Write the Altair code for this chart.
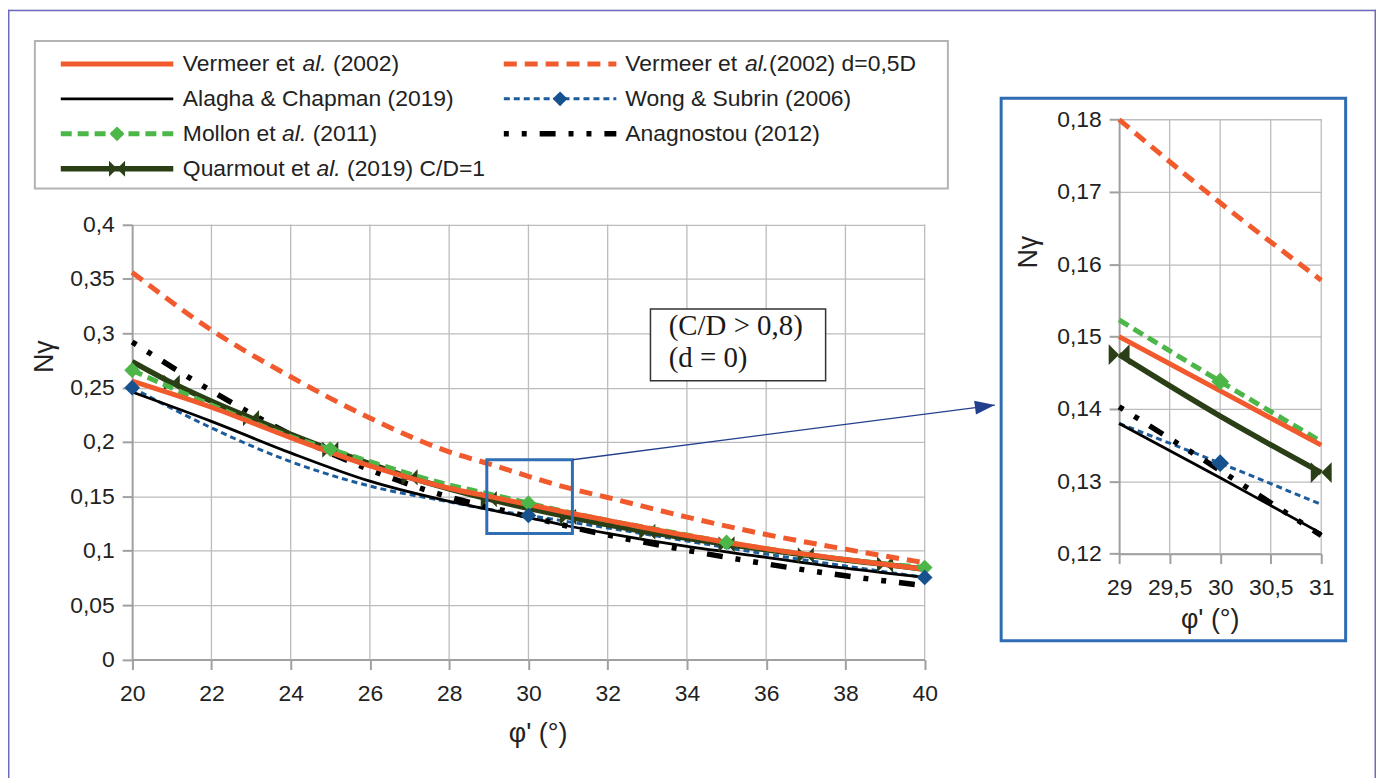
import altair as alt
import pandas as pd

# ------------------------------------------------------------------ data
PHI = [20, 22, 24, 26, 28, 29, 30, 31, 32, 34, 36, 38, 40]
VERMEER = [0.256, 0.232, 0.204, 0.178, 0.1575, 0.150, 0.1425, 0.135, 0.128, 0.114, 0.102, 0.092, 0.083]
VERMEER_D05 = [0.356, 0.303, 0.260, 0.222, 0.191, 0.180, 0.1685, 0.1578, 0.149, 0.131, 0.115, 0.1015, 0.089]
ALAGHA = [0.246, 0.219, 0.190, 0.164, 0.1455, 0.138, 0.1305, 0.1228, 0.116, 0.104, 0.094, 0.084, 0.0755]
WONG = [0.250, 0.213, 0.182, 0.1595, 0.145, 0.138, 0.1325, 0.1268, 0.121, 0.109, 0.097, 0.086, 0.0755]
ANAGNOSTOU = [0.292, 0.247, 0.207, 0.1745, 0.1495, 0.1403, 0.1315, 0.1225, 0.1145, 0.1005, 0.088, 0.077, 0.068]
PHI_MOLLON = [20, 22, 24, 25, 26, 28, 29, 30, 31, 32, 34, 35, 36, 38, 40]
MOLLON = [0.266, 0.234, 0.205, 0.1935, 0.182, 0.1605, 0.1523, 0.1438, 0.1355, 0.128, 0.1145, 0.1077, 0.102, 0.092, 0.0846]
PHI_QUARMOUT = [20, 21, 22, 23, 24, 25, 26, 27, 28, 29, 30, 31, 32, 33, 34, 35, 36, 37, 38, 39, 40]
QUARMOUT = [0.274, 0.2545, 0.2375, 0.222, 0.207, 0.193, 0.180, 0.1675, 0.157, 0.1475, 0.139, 0.1312,
            0.124, 0.1175, 0.1115, 0.106, 0.101, 0.096, 0.0915, 0.0875, 0.083]

WONG_MARKERS = [20, 30, 40]
MOLLON_MARKERS = [20, 25, 30, 35, 40]
QUARMOUT_MARKERS = [21, 23, 25, 27, 29, 31, 33, 35, 37, 39]

MAIN_X_TICKS = [20, 22, 24, 26, 28, 30, 32, 34, 36, 38, 40]
MAIN_Y_TICKS = [0, 0.05, 0.1, 0.15, 0.2, 0.25, 0.3, 0.35, 0.4]
INSET_X_TICKS = [29, 29.5, 30, 30.5, 31]
INSET_Y_TICKS = [0.12, 0.13, 0.14, 0.15, 0.16, 0.17, 0.18]

LEGEND_LABELS = {
    "vermeer": ("Vermeer et ", "al.", " (2002)"),
    "vermeer_d05": ("Vermeer et ", "al.", "(2002) d=0,5D"),
    "alagha": ("Alagha & Chapman (2019)", "", ""),
    "wong": ("Wong & Subrin (2006)", "", ""),
    "mollon": ("Mollon et ", "al.", " (2011)"),
    "anagnostou": ("Anagnostou (2012)", "", ""),
    "quarmout": ("Quarmout et ", "al.", " (2019) C/D=1"),
}
ANNOTATION_LINES = ["(C/D > 0,8)", "(d = 0)"]
Y_TITLE = "Nγ"
X_TITLE = "φ' (°)"

SERIES = {
    "vermeer": (PHI, VERMEER),
    "vermeer_d05": (PHI, VERMEER_D05),
    "alagha": (PHI, ALAGHA),
    "wong": (PHI, WONG),
    "mollon": (PHI_MOLLON, MOLLON),
    "anagnostou": (PHI, ANAGNOSTOU),
    "quarmout": (PHI_QUARMOUT, QUARMOUT),
}

# ------------------------------------------------------------------ layout & styles
FONT = "Liberation Sans"
W, H = 1374, 790
MAIN_X_RANGE = [124.7, 920.7]
MAIN_Y_RANGE = [652.7, 215.7]
INSET_X_RANGE = [1116.0, 1319.0]
INSET_Y_RANGE = [546.3, 110.3]
GRID = "#bcbcbc"
AXC = "#a0a0a0"
TXT = "#222222"

ORANGE = "#f15a2c"
STYLE = {
    "vermeer": dict(color=ORANGE, strokeWidth=5),
    "vermeer_d05": dict(color=ORANGE, strokeWidth=5, strokeDash=[13, 8]),
    "alagha": dict(color="#000000", strokeWidth=2.8),
    "wong": dict(color="#1d5c9b", strokeWidth=3, strokeDash=[6, 4]),
    "mollon": dict(color="#4cb648", strokeWidth=5, strokeDash=[11, 6]),
    "anagnostou": dict(color="#000000", strokeWidth=5.5, strokeDash=[5, 13, 5, 13, 16, 13]),
    "quarmout": dict(color="#2b3f17", strokeWidth=5.5),
}
LINE_ORDER = ["wong", "alagha", "anagnostou", "quarmout", "mollon", "vermeer_d05", "vermeer"]

BOWTIE = "M-1,-1L0,0L-1,1ZM1,-1L0,0L1,1Z"
ARROW = "M0,0L-1,-0.35L-1,0.35Z"
MARKERS = {  # key: (marker positions, shape, colour)
    "quarmout": (QUARMOUT_MARKERS, BOWTIE, "#2b3f17"),
    "mollon": (MOLLON_MARKERS, "diamond", "#4cb648"),
    "wong": (WONG_MARKERS, "diamond", "#17528f"),
}
TOP_MARKERS = ["mollon", "wong"]
MARK_SIZE_MAIN = {BOWTIE: 260, "diamond": 250}
MARK_SIZE_INSET = {BOWTIE: 440, "diamond": 320}
MARK_SIZE_LEG = {BOWTIE: 260, "diamond": 220}

AXIS_STYLE = dict(labelFont=FONT, labelFontSize=23, labelColor=TXT, titleFont=FONT, titleFontSize=27,
                  titleFontWeight="normal", titleColor=TXT, tickSize=10, tickColor=AXC, tickWidth=2,
                  domainColor=AXC, domainWidth=2, gridColor=GRID, gridWidth=1.3)

ONE = pd.DataFrame({"k": [0]})


class Frame:
    def __init__(self, xdom, xrange, ydom, yrange, xaxis, yaxis):
        self.xs = alt.Scale(domain=xdom, range=xrange, zero=False, nice=False)
        self.ys = alt.Scale(domain=ydom, range=yrange, zero=False, nice=False)
        self.xaxis, self.yaxis = xaxis, yaxis

    def x(self, f):
        return alt.X(f + ":Q", scale=self.xs, axis=self.xaxis)

    def y(self, f):
        return alt.Y(f + ":Q", scale=self.ys, axis=self.yaxis)


main_f = Frame(
    [20, 40], MAIN_X_RANGE, [0, 0.4], MAIN_Y_RANGE,
    alt.Axis(orient="bottom", offset=MAIN_Y_RANGE[0] - H, values=MAIN_X_TICKS, format="d", labelFlush=False,
             labelPadding=13, grid=False, title=X_TITLE, titleX=532, titleY=74, titleBaseline="middle",
             titleAlign="center", **AXIS_STYLE),
    alt.Axis(orient="left", offset=-MAIN_X_RANGE[0], values=MAIN_Y_TICKS,
             labelExpr="replace(format(datum.value, '.2~f'), '.', ',')", labelPadding=8, grid=True,
             title=Y_TITLE, titleX=-87.7, titleY=348, titleAngle=270, titleBaseline="middle",
             titleAlign="center", **AXIS_STYLE),
)
inset_f = Frame(
    [29, 31], INSET_X_RANGE, [0.12, 0.18], INSET_Y_RANGE,
    alt.Axis(orient="bottom", offset=INSET_Y_RANGE[0] - H, values=INSET_X_TICKS,
             labelExpr="replace(format(datum.value, '.1~f'), '.', ',')", labelFlush=False,
             labelPadding=13, grid=False, title=X_TITLE, titleX=1207, titleY=66, titleBaseline="middle",
             titleAlign="center", **AXIS_STYLE),
    alt.Axis(orient="left", offset=-INSET_X_RANGE[0], values=INSET_Y_TICKS,
             labelExpr="replace(format(datum.value, '.2f'), '.', ',')", labelPadding=8, grid=True,
             title=Y_TITLE, titleX=-91, titleY=243, titleAngle=270, titleBaseline="middle",
             titleAlign="center", **AXIS_STYLE),
)


def marker_layer(fr, key, lo, hi, msize):
    mpos, shape, col = MARKERS[key]
    xs, ys = SERIES[key]
    df = pd.DataFrame({"phi": xs, "val": ys})
    df = df[df.phi.isin(mpos) & (df.phi >= lo) & (df.phi <= hi)]
    return alt.Chart(df).mark_point(shape=shape, filled=True, size=msize[shape], color=col,
                                    opacity=1, strokeWidth=0).encode(x=fr.x("phi"), y=fr.y("val"))


def plot_layers(fr, lo, hi, grid_x, y_lo, y_hi, msize):
    layers = []
    gdf = pd.DataFrame({"g": grid_x, "lo": [y_lo] * len(grid_x), "hi": [y_hi] * len(grid_x)})
    layers.append(alt.Chart(gdf).mark_rule(color=GRID, strokeWidth=1.3).encode(
        x=fr.x("g"), y=fr.y("lo"), y2=alt.Y2("hi:Q")))
    for key in LINE_ORDER:
        xs, ys = SERIES[key]
        df = pd.DataFrame({"phi": xs, "val": ys})
        df = df[(df.phi >= lo) & (df.phi <= hi)]
        layers.append(alt.Chart(df).mark_line(interpolate="monotone", **STYLE[key]).encode(
            x=fr.x("phi"), y=fr.y("val")))
        if key == "quarmout":
            layers.append(marker_layer(fr, key, lo, hi, msize))
    for key in TOP_MARKERS:
        layers.append(marker_layer(fr, key, lo, hi, msize))
    return layers


# ---- main chart
main_layers = plot_layers(main_f, 20, 40, MAIN_X_TICKS[1:], 0, 0.4, MARK_SIZE_MAIN)

zoom_box = pd.DataFrame({"x0": [28.95], "x1": [31.11], "y0": [0.116], "y1": [0.1837]})
main_layers.append(alt.Chart(zoom_box).mark_rect(fillOpacity=0, stroke="#2f6db5", strokeWidth=3).encode(
    x=main_f.x("x0"), x2=alt.X2("x1:Q"), y=main_f.y("y0"), y2=alt.Y2("y1:Q")))

arrow = pd.DataFrame({"x0": [31.11], "y0": [0.1837], "x1": [41.77], "y1": [0.234]})
main_layers.append(alt.Chart(arrow).mark_rule(color="#23408e", strokeWidth=1.3).encode(
    x=main_f.x("x0"), y=main_f.y("y0"), x2=alt.X2("x1:Q"), y2=alt.Y2("y1:Q")))
main_layers.append(alt.Chart(arrow).mark_point(shape=ARROW, filled=True, size=1600, angle=352.6,
                                               color="#23408e", opacity=1, strokeWidth=0).encode(
    x=main_f.x("x1"), y=main_f.y("y1")))

ann_box = pd.DataFrame({"x0": [33.08], "x1": [37.50], "y0": [0.2563], "y1": [0.3222]})
main_layers.append(alt.Chart(ann_box).mark_rect(fill="white", stroke="#333333", strokeWidth=1.5).encode(
    x=main_f.x("x0"), x2=alt.X2("x1:Q"), y=main_f.y("y0"), y2=alt.Y2("y1:Q")))
ann_txt = pd.DataFrame({"x": [33.54, 33.54], "y": [0.2981, 0.2691], "t": ANNOTATION_LINES})
main_layers.append(alt.Chart(ann_txt).mark_text(font="Liberation Serif", fontSize=29, align="left",
                                                baseline="alphabetic", color="#1a1a1a").encode(
    x=main_f.x("x"), y=main_f.y("y"), text="t:N"))

main = alt.layer(*main_layers)

# ---- inset chart
inset_layers = plot_layers(inset_f, 29, 31, INSET_X_TICKS[1:], 0.12, 0.18, MARK_SIZE_INSET)
inset = alt.layer(*inset_layers)

# ---- decorations (frames) and legend
deco = []
FRAME_C = "#6b6bbf"
deco.append(alt.Chart(ONE).mark_rule(color=FRAME_C, strokeWidth=1.5).encode(
    x=alt.value(0), x2=alt.value(W), y=alt.value(0.75)))
deco.append(alt.Chart(ONE).mark_rule(color=FRAME_C, strokeWidth=1.5).encode(
    x=alt.value(0.75), y=alt.value(0), y2=alt.value(H)))
deco.append(alt.Chart(ONE).mark_rule(color=FRAME_C, strokeWidth=1.5).encode(
    x=alt.value(W - 0.75), y=alt.value(0), y2=alt.value(H)))
deco.append(alt.Chart(ONE).mark_rect(fillOpacity=0, stroke="#2e6db4", strokeWidth=3).encode(
    x=alt.value(997.5), x2=alt.value(1343.5), y=alt.value(89), y2=alt.value(633.7)))
deco.append(alt.Chart(ONE).mark_rect(fill="white", stroke="#b3b3b3", strokeWidth=2).encode(
    x=alt.value(27), x2=alt.value(944), y=alt.value(31.5), y2=alt.value(179.5)))

ARIAL_W = {" ": 278, "V": 667, "e": 556, "r": 333, "m": 833, "t": 278, "M": 833, "o": 556, "l": 222,
           "n": 556, "Q": 778, "u": 556, "a": 556, ".": 278}
LEG_FS = 23


def tw(s):
    return sum(ARIAL_W[c] for c in s) * LEG_FS / 1000.0


LEG_ORDER = ["vermeer", "vermeer_d05", "alagha", "wong", "mollon", "anagnostou", "quarmout"]
LEG_SLOTS = [(0, 0), (0, 1), (1, 0), (1, 1), (2, 0), (2, 1), (3, 0)]
LEG_ROW_Y = [54.4, 89.5, 124.6, 159.7]
LEG_LINE_X = [(53, 166), (498, 611)]
LEG_TEXT_X = [175.6, 620]

for key, (row, col) in zip(LEG_ORDER, LEG_SLOTS):
    y = LEG_ROW_Y[row]
    x0, x1 = LEG_LINE_X[col]
    deco.append(alt.Chart(ONE).mark_rule(**STYLE[key]).encode(
        x=alt.value(x0), x2=alt.value(x1), y=alt.value(y)))
    if key in MARKERS:
        _, shape, c = MARKERS[key]
        deco.append(alt.Chart(ONE).mark_point(shape=shape, filled=True, size=MARK_SIZE_LEG[shape], color=c,
                                              opacity=1, strokeWidth=0).encode(
            x=alt.value((x0 + x1) / 2), y=alt.value(y)))
    pre, ital, post = LEGEND_LABELS[key]
    tx = LEG_TEXT_X[col]
    pieces = [(pre.strip(), tx, "normal")]
    if ital:
        xi = tx + tw(pre)
        pieces.append((ital, xi, "italic"))
        xp = xi + tw(ital) + (tw(" ") if post.startswith(" ") else 0)
        pieces.append((post.strip(), xp, "normal"))
    for txt, px, fstyle in pieces:
        deco.append(alt.Chart(ONE).mark_text(font=FONT, fontSize=LEG_FS, fontStyle=fstyle, align="left",
                                             baseline="middle", color=TXT).encode(
            x=alt.value(px), y=alt.value(y), text=alt.value(txt)))

chart = alt.layer(*deco[:5], main, inset, *deco[5:]).resolve_scale(
    x="independent", y="independent"
).properties(
    width=W, height=H, padding=0, autosize=alt.AutoSizeParams(type="none")
).configure_view(stroke="transparent", strokeWidth=0).configure(font=FONT)

chart.save("out.html", embed_options={"renderer": "svg", "actions": False})
